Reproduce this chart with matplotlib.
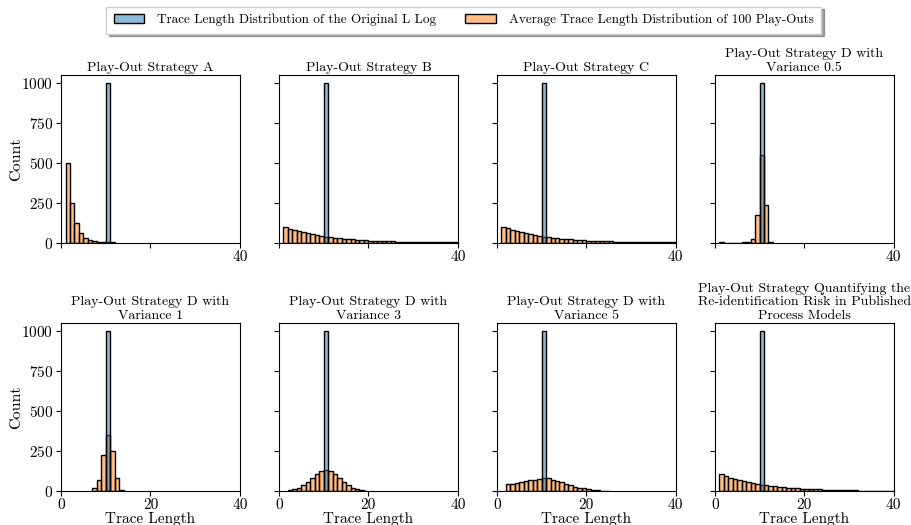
import matplotlib
matplotlib.use("Agg")
import matplotlib.pyplot as plt
from matplotlib.patches import Patch
import numpy as np

plt.rcParams['font.family'] = 'serif'
plt.rcParams['font.serif'] = ['cmr10', 'DejaVu Serif']
plt.rcParams['mathtext.fontset'] = 'cm'
plt.rcParams['axes.formatter.use_mathtext'] = True
plt.rcParams['font.size'] = 11

# ---- data (trace length -> count) ----
original_len = [10]
original_cnt = [1000]

strat_a_start = 1
strat_a = [502, 246, 124, 63, 31, 16, 8, 4, 2, 1, 1]

strat_b_start = 1
strat_b = [99, 88, 79, 71, 64, 58, 52, 47, 42, 38, 34, 31, 28, 25, 22, 20, 18, 16, 14, 12,
           11, 10, 9, 8, 7, 6, 5, 4, 4, 3, 3, 2, 2, 2, 1, 1, 1, 1, 1]

strat_c_start = 1
strat_c = [100, 90, 81, 72, 65, 59, 53, 47, 43, 38, 35, 31, 28, 25, 23, 20, 18, 16, 14, 12,
           11, 10, 9, 8, 7, 6, 5, 4, 4, 3, 3, 2, 2, 2, 1, 1, 1, 1, 1]

var05_start = 1
var05 = [1, 0, 0, 0, 0, 1, 3, 21, 175, 552, 236, 6]

var1_start = 7
var1 = [15, 71, 225, 349, 250, 78, 8]

var3_start = 2
var3 = [6, 13, 21, 34, 55, 78, 103, 122, 128, 122, 107, 82, 57, 36, 19, 10, 4, 1]

var5_start = 2
var5 = [44, 46, 50, 57, 61, 67, 71, 76, 80, 78, 69, 63, 55, 44, 36, 27, 21, 15, 10, 6, 4, 2, 1]

strat_q_start = 1
strat_q = [103, 92, 82, 74, 66, 59, 53, 48, 43, 38, 34, 31, 28, 25, 22, 20, 18, 16, 14, 12,
           11, 10, 9, 8, 7, 6, 5, 4, 4, 3, 3, 2, 2, 2, 1, 1, 1, 1, 1]

titles = [
    "Play-Out Strategy A",
    "Play-Out Strategy B",
    "Play-Out Strategy C",
    "Play-Out Strategy D with\nVariance 0.5",
    "Play-Out Strategy D with\nVariance 1",
    "Play-Out Strategy D with\nVariance 3",
    "Play-Out Strategy D with\nVariance 5",
    "Play-Out Strategy Quantifying the\nRe-identification Risk in Published\nProcess Models",
]
playouts = [
    (strat_a_start, strat_a), (strat_b_start, strat_b), (strat_c_start, strat_c),
    (var05_start, var05), (var1_start, var1), (var3_start, var3),
    (var5_start, var5), (strat_q_start, strat_q),
]

legend_labels = ["Trace Length Distribution of the Original L Log",
                 "Average Trace Length Distribution of 100 Play-Outs"]

blue = (31/255, 119/255, 180/255, 0.5)
orange = (255/255, 127/255, 14/255, 0.5)

fig, axes = plt.subplots(2, 4, figsize=(9.11, 5.25), dpi=100, sharey=True)
fig.subplots_adjust(left=0.067, right=0.981, top=0.857, bottom=0.065,
                    wspace=0.218, hspace=0.482)

for i, ax in enumerate(axes.flat):
    start, vals = playouts[i]
    xs = np.arange(start, start + len(vals))
    ax.bar(xs, vals, width=1, align='edge', facecolor=orange,
           edgecolor='black', linewidth=1.0)
    ax.bar(original_len, original_cnt, width=1, align='edge', facecolor=blue,
           edgecolor='black', linewidth=1.0)
    ax.set_xlim(0, 40)
    ax.set_ylim(0, 1050)
    ax.set_yticks([0, 250, 500, 750, 1000])
    ax.set_xticks([0, 20, 40])
    ax.tick_params(labelsize=11, pad=2)
    ax.set_title(titles[i], fontsize=10.0, linespacing=1.18, pad=3)
    if i < 4:
        ax.set_xticklabels(['', '', '40'])
    else:
        ax.set_xticklabels(['0', '20', '40'])
        ax.set_xlabel("Trace Length", fontsize=11, labelpad=0)
    if i % 4 == 0:
        ax.set_ylabel("Count", fontsize=11.5, labelpad=-1)

handles = [Patch(facecolor=blue, edgecolor='black'),
           Patch(facecolor=orange, edgecolor='black')]
fig.legend(handles, legend_labels, loc='upper center', bbox_to_anchor=(0.509, 1.0),
           ncol=2, fontsize=9.5, fancybox=False, shadow=True, columnspacing=2.2,
           handlelength=2.3, handletextpad=1.0, borderpad=0.55)

fig.savefig("out.png", dpi=100)
